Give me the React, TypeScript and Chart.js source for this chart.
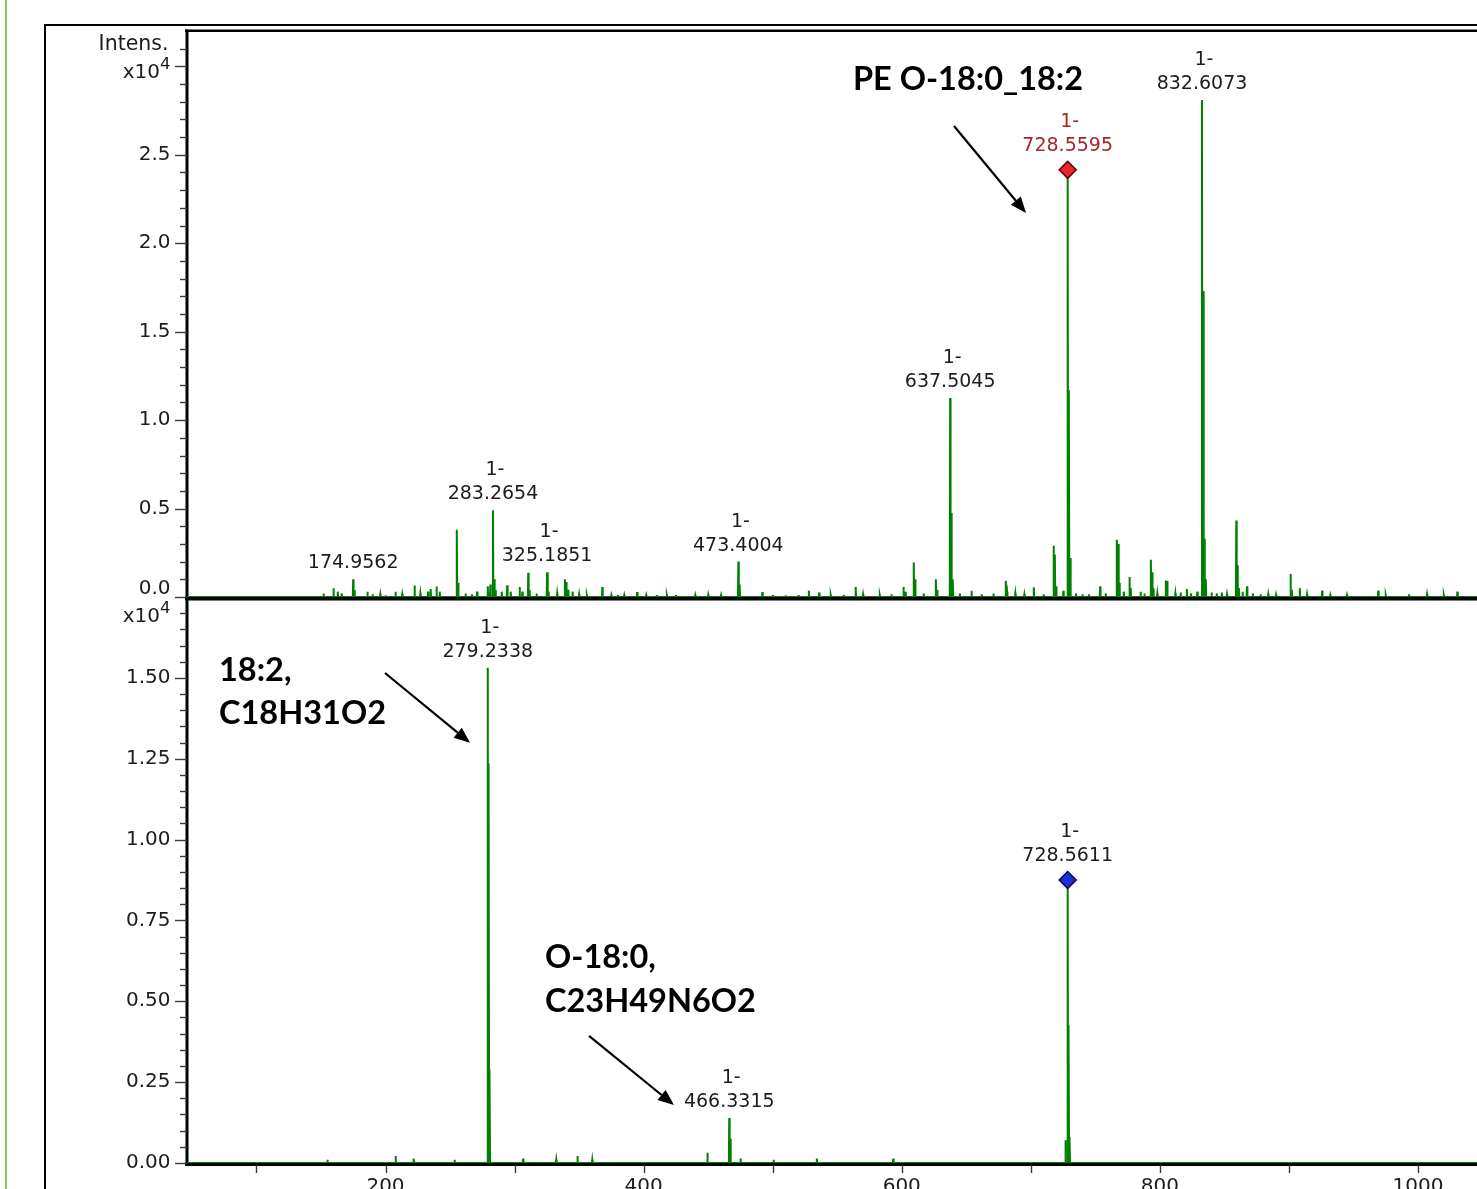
import React, { useEffect, useRef } from 'react';
import { Chart, registerables } from 'chart.js';

Chart.register(...registerables);

// ---------- axis ranges ----------
const X_MIN = 46.2;
const X_MAX = 1045.7;
const TOP_MAX = 3.2;
const BOT_MAX = 1.75;

// tick label values
const xTickValues = [200, 400, 600, 800, 1000];
const topTickValues = [0, 0.5, 1.0, 1.5, 2.0, 2.5];
const botTickValues = [0, 0.25, 0.5, 0.75, 1.0, 1.25, 1.5];

// ---------- top spectrum (MS, Intens. x10^4) ----------
const topMz = [
  152.0, 159.7, 163.0, 166.0, 174.9562, 176.0, 186.0, 190.0, 196.0, 200.0,
  207.7, 213.0, 222.5, 227.0, 233.0, 235.0, 239.5, 242.0, 255.233, 256.23,
  262.0, 267.0, 271.0, 279.23, 281.25, 283.2654, 284.27, 285.3, 290.0, 294.3,
  297.0, 303.9, 306.0, 310.6, 311.6, 317.0, 325.1851, 326.2, 333.0, 339.0,
  340.0, 341.5, 345.0, 350.0, 356.0, 368.0, 375.0, 380.0, 385.0, 395.0,
  402.0, 410.0, 418.0, 425.0, 440.0, 450.0, 460.0, 473.4004, 474.4, 492.0,
  500.0, 510.0, 520.0, 528.0, 536.0, 545.0, 555.0, 564.3, 570.0, 583.0,
  592.0, 601.3, 603.0, 609.3, 610.3, 617.0, 626.4, 627.4, 637.5045, 638.5,
  639.5, 645.0, 654.0, 662.0, 671.0, 680.6, 681.6, 688.0, 695.0, 702.3,
  710.0, 717.6, 718.6, 719.6, 725.2, 728.5595, 729.56, 730.56, 735.0, 740.0,
  745.0, 753.7, 758.0, 766.6, 767.6, 768.6, 772.0, 776.4, 777.4, 785.0,
  788.0, 793.0, 794.0, 795.0, 798.0, 804.6, 805.6, 812.0, 816.0, 820.9,
  824.0, 829.0, 832.6073, 833.61, 834.61, 835.6, 840.0, 844.0, 848.0, 852.0,
  859.2, 860.2, 861.2, 864.0, 867.5, 872.0, 878.0, 884.0, 890.0, 901.2,
  902.2, 908.4, 914.0, 925.7, 932.0, 945.0, 969.2, 975.0, 993.0, 1007.0,
  1020.0, 1030.5,
];
const topInt = [
  0.02, 0.05, 0.03, 0.02, 0.10, 0.04, 0.03, 0.015, 0.015, 0.01,
  0.03, 0.015, 0.065, 0.02, 0.03, 0.045, 0.06, 0.03, 0.38, 0.08,
  0.02, 0.015, 0.03, 0.06, 0.07, 0.49, 0.10, 0.04, 0.03, 0.066,
  0.03, 0.056, 0.03, 0.137, 0.04, 0.02, 0.14, 0.03, 0.02, 0.10,
  0.085, 0.04, 0.03, 0.015, 0.01, 0.056, 0.01, 0.012, 0.01, 0.028,
  0.01, 0.012, 0.01, 0.012, 0.01, 0.012, 0.01, 0.20, 0.07, 0.028,
  0.012, 0.01, 0.012, 0.036, 0.025, 0.01, 0.012, 0.057, 0.015, 0.01,
  0.015, 0.057, 0.03, 0.195, 0.10, 0.02, 0.10, 0.04, 1.125, 0.475,
  0.10, 0.02, 0.036, 0.015, 0.02, 0.092, 0.03, 0.02, 0.015, 0.055,
  0.015, 0.29, 0.24, 0.06, 0.035, 2.415, 1.17, 0.22, 0.02, 0.015,
  0.015, 0.06, 0.02, 0.324, 0.30, 0.08, 0.03, 0.113, 0.05, 0.03,
  0.02, 0.21, 0.14, 0.05, 0.02, 0.093, 0.09, 0.02, 0.025, 0.045,
  0.02, 0.03, 2.81, 1.73, 0.33, 0.10, 0.025, 0.02, 0.025, 0.015,
  0.433, 0.18, 0.05, 0.03, 0.06, 0.02, 0.015, 0.015, 0.012, 0.13,
  0.04, 0.05, 0.015, 0.036, 0.01, 0.01, 0.036, 0.01, 0.015, 0.015,
  0.01, 0.03,
];

// ---------- bottom spectrum (MS/MS of 728.56) ----------
const botMz = [
  155.0, 207.8, 221.8, 253.5, 279.2338, 280.0, 280.7, 306.6, 332.3, 348.7,
  360.2, 449.4, 466.3315, 467.3, 475.1, 500.8, 534.2, 593.4, 726.8, 728.5611,
  729.35, 730.1,
];
const botInt = [
  0.01, 0.022, 0.014, 0.01, 1.531, 1.235, 0.29, 0.014, 0.01, 0.022,
  0.01, 0.032, 0.139, 0.075, 0.014, 0.01, 0.014, 0.014, 0.07, 0.875,
  0.426, 0.08,
];

// ---------- peak labels ----------
const topLabelMz = [174.9562, 283.2654, 325.1851, 473.4004, 637.5045, 728.5595, 832.6073];
const topLabelInt = [0.10, 0.49, 0.14, 0.20, 1.125, 2.415, 2.81];
const topLabelCharge = ['', '1-', '1-', '1-', '1-', '1-', '1-'];
const topLabelColor = ['#1c1c1c', '#1c1c1c', '#1c1c1c', '#1c1c1c', '#1c1c1c', '#a3282b', '#1c1c1c'];
const topLabelMarked = [false, false, false, false, false, true, false];

const botLabelMz = [279.2338, 466.3315, 728.5611];
const botLabelInt = [1.531, 0.139, 0.875];
const botLabelCharge = ['1-', '1-', '1-'];
const botLabelMarked = [false, false, true];

// precursor markers
const topPrecMz = [728.5595];
const topPrecInt = [2.415];
const botPrecMz = [728.5611];
const botPrecInt = [0.875];

// ---------- annotations ----------
const noteText = ['PE O-18:0_18:2', '18:2,', 'C18H31O2', 'O-18:0,', 'C23H49N6O2'];
const noteMz = [562.2, 71.0, 71.0, 323.6, 323.6];
const noteVal = [2.923, 1.524, 1.391, 0.634, 0.498];
const noteAxis = ['yTop', 'yBot', 'yBot', 'yBot', 'yBot'];

const arrowFromMz = [640.5, 199.6, 357.7];
const arrowFromVal = [2.663, 1.515, 0.393];
const arrowToMz = [696.3, 265.5, 423.5];
const arrowToVal = [2.171, 1.299, 0.179];
const arrowAxis = ['yTop', 'yBot', 'yBot'];

const FONT = '"DejaVu Sans", Verdana, sans-serif';
const BOLD = 'bold 32.5px Lato, "Open Sans", sans-serif';
const GREEN = '#008000';

function profile(mz: number[], inten: number[]) {
  const idx = mz.map((_, i) => i).sort((a, b) => mz[a] - mz[b]);
  const pts: { x: number; y: number }[] = [{ x: X_MIN, y: 0 }];
  for (const i of idx) {
    pts.push({ x: mz[i] - 0.3, y: 0 }, { x: mz[i], y: inten[i] }, { x: mz[i] + 0.3, y: 0 });
  }
  pts.push({ x: X_MAX, y: 0 });
  return pts;
}

const msPlugin = {
  id: 'msDecor',
  beforeDatasetsDraw(chart: any) {
    const { ctx, chartArea } = chart;
    const { left, top, bottom } = chartArea;
    const right = chart.width;
    const yT = chart.scales.yTop;
    const yB = chart.scales.yBot;
    const xs = chart.scales.x;
    ctx.save();
    ctx.fillStyle = '#000';
    const b1 = yT.getPixelForValue(0);
    const b2 = yB.getPixelForValue(0);
    ctx.fillRect(left - 2, b1 - 0.5, right - left + 2, 4);
    ctx.fillRect(left - 2, b2 - 0.5, right - left + 2, 3.5);
    ctx.fillRect(left - 2, top - 1.5, right - left + 2, 2.5);
    ctx.fillRect(left - 1.5, top - 1.5, 3, bottom - top + 4);

    ctx.strokeStyle = '#3a3a3a';
    ctx.lineWidth = 1.4;
    const drawYTicks = (sc: any, n: number, step: number) => {
      for (let i = 0; i <= n; i++) {
        const y = Math.round(sc.getPixelForValue(i * step)) + 0.5;
        const len = i % 5 === 0 ? 12 : 7;
        ctx.beginPath();
        ctx.moveTo(left - len, y);
        ctx.lineTo(left, y);
        ctx.stroke();
      }
    };
    drawYTicks(yT, 31, 0.1);
    drawYTicks(yB, 34, 0.05);
    for (let v = 100; v <= 1000; v += 100) {
      const x = Math.round(xs.getPixelForValue(v)) + 0.5;
      ctx.beginPath();
      ctx.moveTo(x, b2 + 2);
      ctx.lineTo(x, b2 + 10);
      ctx.stroke();
    }

    ctx.fillStyle = '#1c1c1c';
    // x tick labels
    ctx.font = `20px ${FONT}`;
    ctx.textAlign = 'center';
    ctx.textBaseline = 'top';
    xTickValues.forEach((v) => ctx.fillText(String(v), xs.getPixelForValue(v), b2 + 14));

    // y tick labels
    const lx = left - 16.5;
    ctx.textAlign = 'right';
    ctx.textBaseline = 'middle';
    topTickValues.forEach((v) => {
      ctx.fillText(v.toFixed(1), lx, yT.getPixelForValue(v) - (v === 0 ? 8 : 0));
    });
    botTickValues.forEach((v) => {
      ctx.fillText(v.toFixed(2), lx, yB.getPixelForValue(v));
    });
    const drawExp = (yc: number) => {
      ctx.font = `16.5px ${FONT}`;
      ctx.fillText('4', lx, yc - 5);
      const w4 = ctx.measureText('4').width;
      ctx.font = `20px ${FONT}`;
      ctx.fillText('x10', lx - w4, yc + 3);
    };
    drawExp(yT.getPixelForValue(3.0) + 3);
    drawExp(yB.getPixelForValue(1.7) + 1);
    ctx.font = `20.5px ${FONT}`;
    ctx.fillText('Intens.', lx - 2, yT.getPixelForValue(3.1) - 4);
    ctx.restore();
  },
  afterDatasetsDraw(chart: any) {
    const { ctx } = chart;
    const xs = chart.scales.x;
    ctx.save();
    ctx.textAlign = 'center';
    ctx.textBaseline = 'middle';
    ctx.font = `19px ${FONT}`;
    const drawLabels = (sc: any, mz: number[], inten: number[], charge: string[], marked: boolean[], colors?: string[]) => {
      mz.forEach((m, i) => {
        const px = xs.getPixelForValue(m);
        const py = sc.getPixelForValue(inten[i]);
        const cy = py - 16 - (marked[i] ? 8 : 0);
        ctx.fillStyle = colors ? colors[i] : '#1c1c1c';
        ctx.fillText(m.toFixed(4), px, cy);
        if (charge[i]) ctx.fillText(charge[i], px + 2, cy - 24);
      });
    };
    drawLabels(chart.scales.yTop, topLabelMz, topLabelInt, topLabelCharge, topLabelMarked, topLabelColor);
    drawLabels(chart.scales.yBot, botLabelMz, botLabelInt, botLabelCharge, botLabelMarked);

    // annotations
    ctx.fillStyle = '#000';
    ctx.textAlign = 'left';
    ctx.font = BOLD;
    noteText.forEach((t, i) => {
      ctx.fillText(t, xs.getPixelForValue(noteMz[i]), chart.scales[noteAxis[i]].getPixelForValue(noteVal[i]));
    });

    // arrows
    ctx.strokeStyle = '#000';
    ctx.lineWidth = 2.2;
    arrowAxis.forEach((ax, i) => {
      const sc = chart.scales[ax];
      const x1 = xs.getPixelForValue(arrowFromMz[i]);
      const y1 = sc.getPixelForValue(arrowFromVal[i]);
      const x2 = xs.getPixelForValue(arrowToMz[i]);
      const y2 = sc.getPixelForValue(arrowToVal[i]);
      const a = Math.atan2(y2 - y1, x2 - x1);
      const hl = 16, hw = 6.5;
      const bx = x2 - hl * Math.cos(a), by = y2 - hl * Math.sin(a);
      ctx.beginPath();
      ctx.moveTo(x1, y1);
      ctx.lineTo(bx, by);
      ctx.stroke();
      ctx.beginPath();
      ctx.moveTo(x2, y2);
      ctx.lineTo(bx + hw * Math.sin(a), by - hw * Math.cos(a));
      ctx.lineTo(bx - hw * Math.sin(a), by + hw * Math.cos(a));
      ctx.closePath();
      ctx.fill();
    });
    ctx.restore();
  },
};

export default function App() {
  const ref = useRef<HTMLCanvasElement | null>(null);

  useEffect(() => {
    if (!ref.current) return;
    const chart = new Chart(ref.current, {
      type: 'line',
      data: {
        datasets: [
          {
            type: 'scatter',
            data: topPrecMz.map((m, i) => ({ x: m, y: topPrecInt[i] })),
            yAxisID: 'yTop',
            xAxisID: 'x',
            pointStyle: 'rectRot',
            pointRadius: 8.5,
            backgroundColor: '#e8262c',
            borderColor: '#5a0a0a',
            borderWidth: 1.5,
            order: 0,
          } as any,
          {
            type: 'scatter',
            data: botPrecMz.map((m, i) => ({ x: m, y: botPrecInt[i] })),
            yAxisID: 'yBot',
            xAxisID: 'x',
            pointStyle: 'rectRot',
            pointRadius: 8.5,
            backgroundColor: '#1f2fe0',
            borderColor: '#0a0a40',
            borderWidth: 1.5,
            order: 0,
          } as any,
          {
            type: 'line',
            data: profile(topMz, topInt),
            yAxisID: 'yTop',
            xAxisID: 'x',
            borderColor: GREEN,
            borderWidth: 2,
            pointRadius: 0,
            tension: 0,
            fill: false,
            order: 1,
          },
          {
            type: 'line',
            data: profile(botMz, botInt),
            yAxisID: 'yBot',
            xAxisID: 'x',
            borderColor: GREEN,
            borderWidth: 2,
            pointRadius: 0,
            tension: 0,
            fill: false,
            order: 1,
          },
        ],
      },
      options: {
        animation: false,
        responsive: false,
        devicePixelRatio: 1,
        events: [],
        layout: { autoPadding: false, padding: { left: 0, right: 0, top: 31, bottom: 0 } },
        plugins: { legend: { display: false }, tooltip: { enabled: false } },
        scales: {
          x: {
            type: 'linear',
            position: 'bottom',
            min: X_MIN,
            max: X_MAX,
            grid: { display: false },
            border: { display: false },
            ticks: { display: false, stepSize: 100, includeBounds: false },
            afterFit: (s: any) => {
              s.height = 26;
              s.paddingLeft = 0;
              s.paddingRight = 0;
            },
          },
          yBot: {
            type: 'linear',
            position: 'left',
            stack: 'ms',
            stackWeight: 1,
            min: 0,
            max: BOT_MAX,
            grid: { display: false },
            border: { display: false },
            ticks: { display: false, stepSize: 0.25 },
            afterFit: (s: any) => {
              s.width = 187;
              s.paddingTop = 0;
              s.paddingBottom = 0;
            },
          },
          yTop: {
            type: 'linear',
            position: 'left',
            stack: 'ms',
            stackWeight: 1,
            min: 0,
            max: TOP_MAX,
            grid: { display: false },
            border: { display: false },
            ticks: { display: false, stepSize: 0.5 },
            afterFit: (s: any) => {
              s.width = 187;
              s.paddingTop = 0;
              s.paddingBottom = 0;
            },
          },
        } as any,
      },
      plugins: [msPlugin],
    });
    return () => chart.destroy();
  }, []);

  return (
    <div
      style={{
        position: 'fixed',
        left: 0,
        top: 0,
        width: 1477,
        height: 1189,
        overflow: 'hidden',
        background: '#fff',
      }}
    >
      <div style={{ position: 'absolute', left: 5, top: 0, width: 2, height: 1189, background: '#8cc461' }} />
      <div
        style={{
          position: 'absolute',
          left: 44,
          top: 24,
          width: 1500,
          height: 1200,
          borderLeft: '2px solid #000',
          borderTop: '2px solid #000',
        }}
      />
      <canvas
        ref={ref}
        width={1477}
        height={1189}
        style={{ position: 'absolute', left: 0, top: 0, width: 1477, height: 1189 }}
      />
    </div>
  );
}
